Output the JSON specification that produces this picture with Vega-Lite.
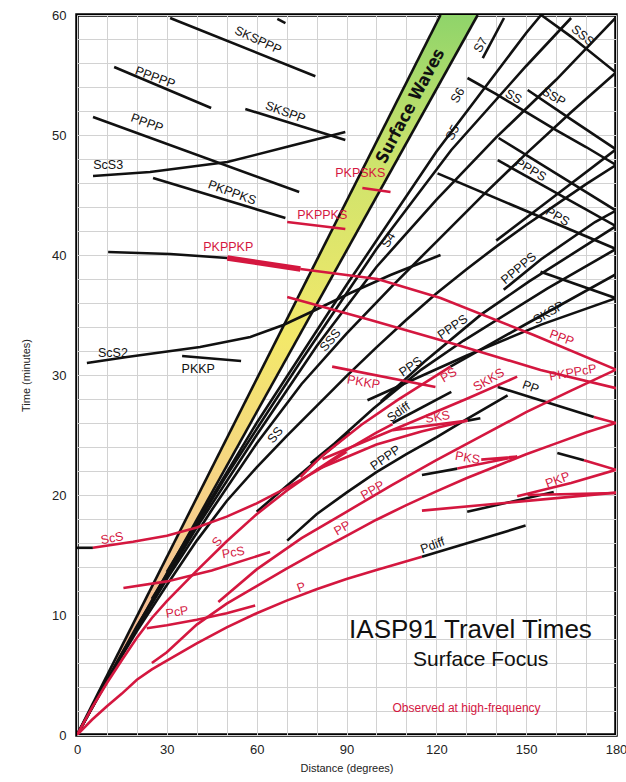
{
  "$schema": "https://vega.github.io/schema/vega-lite/v6.json",
  "width": 539,
  "height": 720,
  "autosize": {"type": "none"},
  "padding": {"left": 77, "top": 15, "right": 10, "bottom": 47},
  "background": "white",
  "config": {
    "view": {"stroke": "black", "strokeWidth": 3.5},
    "font": "Liberation Sans",
    "axis": {"domain": false, "ticks": false, "grid": true, "gridColor": "#d2d2d2", "gridWidth": 1, "labelFont": "Liberation Sans", "labelFontSize": 13, "labelColor": "#222", "titleFont": "Liberation Sans", "titleFontSize": 11, "titleFontWeight": "normal", "titleColor": "#222"}
  },
  "datasets": {
    "band": [{"t": 0, "a": 0, "b": 0}, {"t": 60, "a": 121.4, "b": 133.8}],
    "curves": [
      {"id": "SWL", "k": "calc", "i": 0, "d": 0, "t": 0}, {"id": "SWL", "k": "calc", "i": 1, "d": 121.4, "t": 60},
      {"id": "SWR", "k": "calc", "i": 0, "d": 0, "t": 0}, {"id": "SWR", "k": "calc", "i": 1, "d": 133.8, "t": 60},
      {"id": "SKSPPP", "k": "calc", "i": 0, "d": 31.1, "t": 59.75}, {"id": "SKSPPP", "k": "calc", "i": 1, "d": 79.6, "t": 54.9},
      {"id": "SKSPPPb", "k": "calc", "i": 0, "d": 66.9, "t": 59.67}, {"id": "SKSPPPb", "k": "calc", "i": 1, "d": 69.6, "t": 59.33},
      {"id": "PPPPP", "k": "calc", "i": 0, "d": 12.4, "t": 55.67}, {"id": "PPPPP", "k": "calc", "i": 1, "d": 44.8, "t": 52.25},
      {"id": "SKSPP", "k": "calc", "i": 0, "d": 56.2, "t": 52.17}, {"id": "SKSPP", "k": "calc", "i": 1, "d": 89.6, "t": 49.58},
      {"id": "PPPPm", "k": "calc", "i": 0, "d": 5.35, "t": 51.5}, {"id": "PPPPm", "k": "calc", "i": 1, "d": 74.2, "t": 45.25},
      {"id": "ScS3", "k": "calc", "i": 0, "d": 5.35, "t": 46.58}, {"id": "ScS3", "k": "calc", "i": 1, "d": 24.4, "t": 46.92}, {"id": "ScS3", "k": "calc", "i": 2, "d": 50.2, "t": 47.75}, {"id": "ScS3", "k": "calc", "i": 3, "d": 71.2, "t": 49.08}, {"id": "ScS3", "k": "calc", "i": 4, "d": 89.6, "t": 50.25},
      {"id": "PKPPKSb", "k": "calc", "i": 0, "d": 25.4, "t": 46.42}, {"id": "PKPPKSb", "k": "calc", "i": 1, "d": 69.6, "t": 43.08},
      {"id": "PKPPKPb", "k": "calc", "i": 0, "d": 10.4, "t": 40.25}, {"id": "PKPPKPb", "k": "calc", "i": 1, "d": 31.1, "t": 40.08}, {"id": "PKPPKPb", "k": "calc", "i": 2, "d": 50.2, "t": 39.75},
      {"id": "ScS2", "k": "calc", "i": 0, "d": 3.3, "t": 31.0}, {"id": "ScS2", "k": "calc", "i": 1, "d": 16.7, "t": 31.5}, {"id": "ScS2", "k": "calc", "i": 2, "d": 41.1, "t": 32.33}, {"id": "ScS2", "k": "calc", "i": 3, "d": 57.9, "t": 33.17}, {"id": "ScS2", "k": "calc", "i": 4, "d": 68.9, "t": 34.17}, {"id": "ScS2", "k": "calc", "i": 5, "d": 78.9, "t": 35.33}, {"id": "ScS2", "k": "calc", "i": 6, "d": 91.3, "t": 36.83}, {"id": "ScS2", "k": "calc", "i": 7, "d": 104.7, "t": 38.33}, {"id": "ScS2", "k": "calc", "i": 8, "d": 121.4, "t": 40.0},
      {"id": "PKKPb", "k": "calc", "i": 0, "d": 35.1, "t": 31.58}, {"id": "PKKPb", "k": "calc", "i": 1, "d": 54.8, "t": 31.17},
      {"id": "ScSb", "k": "calc", "i": 0, "d": 0, "t": 15.6}, {"id": "ScSb", "k": "calc", "i": 1, "d": 5.3, "t": 15.6},
      {"id": "Pdiff", "k": "calc", "i": 0, "d": 115.2, "t": 14.85}, {"id": "Pdiff", "k": "calc", "i": 1, "d": 149.8, "t": 17.45},
      {"id": "PPPP", "k": "calc", "i": 0, "d": 70.2, "t": 16.2}, {"id": "PPPP", "k": "calc", "i": 1, "d": 80, "t": 18.4}, {"id": "PPPP", "k": "calc", "i": 2, "d": 90, "t": 20.2}, {"id": "PPPP", "k": "calc", "i": 3, "d": 100, "t": 21.9}, {"id": "PPPP", "k": "calc", "i": 4, "d": 110, "t": 23.4}, {"id": "PPPP", "k": "calc", "i": 5, "d": 120, "t": 24.8}, {"id": "PPPP", "k": "calc", "i": 6, "d": 130, "t": 26.3}, {"id": "PPPP", "k": "calc", "i": 7, "d": 143.8, "t": 28.3},
      {"id": "SS", "k": "calc", "i": 0, "d": 0, "t": 0}, {"id": "SS", "k": "calc", "i": 1, "d": 10, "t": 4.54}, {"id": "SS", "k": "calc", "i": 2, "d": 20, "t": 8.66}, {"id": "SS", "k": "calc", "i": 3, "d": 30, "t": 12.5}, {"id": "SS", "k": "calc", "i": 4, "d": 40, "t": 16.2}, {"id": "SS", "k": "calc", "i": 5, "d": 50, "t": 19.5}, {"id": "SS", "k": "calc", "i": 6, "d": 60, "t": 22.3}, {"id": "SS", "k": "calc", "i": 7, "d": 70, "t": 24.9}, {"id": "SS", "k": "calc", "i": 8, "d": 80, "t": 27.4}, {"id": "SS", "k": "calc", "i": 9, "d": 90, "t": 29.9}, {"id": "SS", "k": "calc", "i": 10, "d": 100, "t": 32.3}, {"id": "SS", "k": "calc", "i": 11, "d": 110, "t": 34.6}, {"id": "SS", "k": "calc", "i": 12, "d": 120, "t": 36.8}, {"id": "SS", "k": "calc", "i": 13, "d": 130, "t": 38.8}, {"id": "SS", "k": "calc", "i": 14, "d": 140, "t": 40.7}, {"id": "SS", "k": "calc", "i": 15, "d": 150, "t": 42.5}, {"id": "SS", "k": "calc", "i": 16, "d": 160, "t": 44.2}, {"id": "SS", "k": "calc", "i": 17, "d": 170, "t": 45.9}, {"id": "SS", "k": "calc", "i": 18, "d": 180, "t": 47.5},
      {"id": "SSS", "k": "calc", "i": 0, "d": 0, "t": 0}, {"id": "SSS", "k": "calc", "i": 1, "d": 15, "t": 6.8}, {"id": "SSS", "k": "calc", "i": 2, "d": 30, "t": 13.0}, {"id": "SSS", "k": "calc", "i": 3, "d": 45, "t": 18.75}, {"id": "SSS", "k": "calc", "i": 4, "d": 60, "t": 24.3}, {"id": "SSS", "k": "calc", "i": 5, "d": 75, "t": 29.25}, {"id": "SSS", "k": "calc", "i": 6, "d": 90, "t": 33.45}, {"id": "SSS", "k": "calc", "i": 7, "d": 105, "t": 37.35}, {"id": "SSS", "k": "calc", "i": 8, "d": 120, "t": 41.1}, {"id": "SSS", "k": "calc", "i": 9, "d": 135, "t": 44.85}, {"id": "SSS", "k": "calc", "i": 10, "d": 150, "t": 48.45}, {"id": "SSS", "k": "calc", "i": 11, "d": 165, "t": 51.9}, {"id": "SSS", "k": "calc", "i": 12, "d": 180, "t": 55.2},
      {"id": "S4", "k": "calc", "i": 0, "d": 0, "t": 0}, {"id": "S4", "k": "calc", "i": 1, "d": 20, "t": 9.08}, {"id": "S4", "k": "calc", "i": 2, "d": 40, "t": 17.3}, {"id": "S4", "k": "calc", "i": 3, "d": 60, "t": 25.0}, {"id": "S4", "k": "calc", "i": 4, "d": 80, "t": 32.4}, {"id": "S4", "k": "calc", "i": 5, "d": 100, "t": 39.0}, {"id": "S4", "k": "calc", "i": 6, "d": 120, "t": 44.6}, {"id": "S4", "k": "calc", "i": 7, "d": 140, "t": 49.8}, {"id": "S4", "k": "calc", "i": 8, "d": 160, "t": 54.6}, {"id": "S4", "k": "calc", "i": 9, "d": 180, "t": 59.8},
      {"id": "S5", "k": "calc", "i": 0, "d": 25, "t": 11.35}, {"id": "S5", "k": "calc", "i": 1, "d": 50, "t": 21.65}, {"id": "S5", "k": "calc", "i": 2, "d": 75, "t": 31.25}, {"id": "S5", "k": "calc", "i": 3, "d": 100, "t": 40.5}, {"id": "S5", "k": "calc", "i": 4, "d": 125, "t": 48.75}, {"id": "S5", "k": "calc", "i": 5, "d": 150, "t": 55.75}, {"id": "S5", "k": "calc", "i": 6, "d": 165, "t": 59.75},
      {"id": "S6", "k": "calc", "i": 0, "d": 30, "t": 13.6}, {"id": "S6", "k": "calc", "i": 1, "d": 60, "t": 26.0}, {"id": "S6", "k": "calc", "i": 2, "d": 90, "t": 37.5}, {"id": "S6", "k": "calc", "i": 3, "d": 120, "t": 48.6}, {"id": "S6", "k": "calc", "i": 4, "d": 150, "t": 58.5}, {"id": "S6", "k": "calc", "i": 5, "d": 155, "t": 60.0},
      {"id": "S7", "k": "calc", "i": 0, "d": 135.5, "t": 56.4}, {"id": "S7", "k": "calc", "i": 1, "d": 142.6, "t": 59.75},
      {"id": "SSm", "k": "calc", "i": 0, "d": 130.4, "t": 54.75}, {"id": "SSm", "k": "calc", "i": 1, "d": 140, "t": 53.4}, {"id": "SSm", "k": "calc", "i": 2, "d": 150, "t": 51.9}, {"id": "SSm", "k": "calc", "i": 3, "d": 160, "t": 50.4}, {"id": "SSm", "k": "calc", "i": 4, "d": 170, "t": 49.0}, {"id": "SSm", "k": "calc", "i": 5, "d": 180, "t": 47.5},
      {"id": "SSSm", "k": "calc", "i": 0, "d": 155, "t": 60}, {"id": "SSSm", "k": "calc", "i": 1, "d": 165, "t": 58.2}, {"id": "SSSm", "k": "calc", "i": 2, "d": 180, "t": 55.2},
      {"id": "SSPmaj", "k": "calc", "i": 0, "d": 150.5, "t": 53.75}, {"id": "SSPmaj", "k": "calc", "i": 1, "d": 165, "t": 51.3}, {"id": "SSPmaj", "k": "calc", "i": 2, "d": 180, "t": 48.8},
      {"id": "SSPmin", "k": "calc", "i": 0, "d": 140, "t": 41.2}, {"id": "SSPmin", "k": "calc", "i": 1, "d": 160, "t": 45.0}, {"id": "SSPmin", "k": "calc", "i": 2, "d": 180, "t": 48.8},
      {"id": "PPPPSm", "k": "calc", "i": 0, "d": 140.8, "t": 49.75}, {"id": "PPPPSm", "k": "calc", "i": 1, "d": 180, "t": 43.7},
      {"id": "PPPSm", "k": "calc", "i": 0, "d": 140.5, "t": 47.9}, {"id": "PPPSm", "k": "calc", "i": 1, "d": 180, "t": 42.4},
      {"id": "PPSm", "k": "calc", "i": 0, "d": 120.4, "t": 46.8}, {"id": "PPSm", "k": "calc", "i": 1, "d": 180, "t": 40.5},
      {"id": "SKSPm", "k": "calc", "i": 0, "d": 154.8, "t": 38.6}, {"id": "SKSPm", "k": "calc", "i": 1, "d": 180, "t": 36.4},
      {"id": "PPS", "k": "calc", "i": 0, "d": 78, "t": 22.65}, {"id": "PPS", "k": "calc", "i": 1, "d": 86, "t": 24.3}, {"id": "PPS", "k": "calc", "i": 2, "d": 99, "t": 27.2}, {"id": "PPS", "k": "calc", "i": 3, "d": 115, "t": 30.45}, {"id": "PPS", "k": "calc", "i": 4, "d": 129, "t": 32.85}, {"id": "PPS", "k": "calc", "i": 5, "d": 157, "t": 37.2}, {"id": "PPS", "k": "calc", "i": 6, "d": 180, "t": 40.5},
      {"id": "PPPS", "k": "calc", "i": 0, "d": 101.5, "t": 27.8}, {"id": "PPPS", "k": "calc", "i": 1, "d": 116, "t": 31.1}, {"id": "PPPS", "k": "calc", "i": 2, "d": 135, "t": 35.05}, {"id": "PPPS", "k": "calc", "i": 3, "d": 151, "t": 37.8}, {"id": "PPPS", "k": "calc", "i": 4, "d": 180, "t": 42.4},
      {"id": "PPPPS", "k": "calc", "i": 0, "d": 142.5, "t": 37.1}, {"id": "PPPPS", "k": "calc", "i": 1, "d": 155, "t": 39.65}, {"id": "PPPPS", "k": "calc", "i": 2, "d": 173, "t": 42.75}, {"id": "PPPPS", "k": "calc", "i": 3, "d": 180, "t": 43.7},
      {"id": "SKSP", "k": "calc", "i": 0, "d": 97, "t": 27.9}, {"id": "SKSP", "k": "calc", "i": 1, "d": 130, "t": 31.6}, {"id": "SKSP", "k": "calc", "i": 2, "d": 155, "t": 34.2}, {"id": "SKSP", "k": "calc", "i": 3, "d": 180, "t": 36.4},
      {"id": "PSd", "k": "calc", "i": 0, "d": 124.7, "t": 30.7}, {"id": "PSd", "k": "calc", "i": 1, "d": 150, "t": 34.25}, {"id": "PSd", "k": "calc", "i": 2, "d": 180, "t": 38.4},
      {"id": "PSb", "k": "calc", "i": 0, "d": 60, "t": 18.6}, {"id": "PSb", "k": "calc", "i": 1, "d": 70, "t": 20.75}, {"id": "PSb", "k": "calc", "i": 2, "d": 82, "t": 23.3}, {"id": "PSb", "k": "calc", "i": 3, "d": 91.3, "t": 25.2},
      {"id": "PPm", "k": "calc", "i": 0, "d": 140.5, "t": 29.0}, {"id": "PPm", "k": "calc", "i": 1, "d": 172.6, "t": 26.5},
      {"id": "Sdiff", "k": "calc", "i": 0, "d": 105.4, "t": 26.0}, {"id": "Sdiff", "k": "calc", "i": 1, "d": 125, "t": 28.6},
      {"id": "SKSb", "k": "calc", "i": 0, "d": 130.4, "t": 26.2}, {"id": "SKSb", "k": "calc", "i": 1, "d": 134.7, "t": 26.4},
      {"id": "PKSb", "k": "calc", "i": 0, "d": 115.2, "t": 21.67}, {"id": "PKSb", "k": "calc", "i": 1, "d": 127, "t": 22.2},
      {"id": "PKPb", "k": "calc", "i": 0, "d": 130.3, "t": 18.6}, {"id": "PKPb", "k": "calc", "i": 1, "d": 159.2, "t": 20.25},
      {"id": "SKPb", "k": "calc", "i": 0, "d": 160.4, "t": 23.5}, {"id": "SKPb", "k": "calc", "i": 1, "d": 169.3, "t": 22.9},
      {"id": "PPmr", "k": "obs", "i": 0, "d": 172.6, "t": 26.5}, {"id": "PPmr", "k": "obs", "i": 1, "d": 180, "t": 26.0},
      {"id": "SKPr", "k": "obs", "i": 0, "d": 169.3, "t": 22.9}, {"id": "SKPr", "k": "obs", "i": 1, "d": 180, "t": 22.1},
      {"id": "P", "k": "obs", "i": 0, "d": 0, "t": 0}, {"id": "P", "k": "obs", "i": 1, "d": 5, "t": 1.27}, {"id": "P", "k": "obs", "i": 2, "d": 10, "t": 2.4}, {"id": "P", "k": "obs", "i": 3, "d": 15, "t": 3.45}, {"id": "P", "k": "obs", "i": 4, "d": 20, "t": 4.6}, {"id": "P", "k": "obs", "i": 5, "d": 25, "t": 5.47}, {"id": "P", "k": "obs", "i": 6, "d": 30, "t": 6.2}, {"id": "P", "k": "obs", "i": 7, "d": 40, "t": 7.63}, {"id": "P", "k": "obs", "i": 8, "d": 50, "t": 8.97}, {"id": "P", "k": "obs", "i": 9, "d": 60, "t": 10.15}, {"id": "P", "k": "obs", "i": 10, "d": 70, "t": 11.2}, {"id": "P", "k": "obs", "i": 11, "d": 80, "t": 12.15}, {"id": "P", "k": "obs", "i": 12, "d": 90, "t": 13.0}, {"id": "P", "k": "obs", "i": 13, "d": 100, "t": 13.75}, {"id": "P", "k": "obs", "i": 14, "d": 115.2, "t": 14.85},
      {"id": "PP", "k": "obs", "i": 0, "d": 25, "t": 6.0}, {"id": "PP", "k": "obs", "i": 1, "d": 30, "t": 6.9}, {"id": "PP", "k": "obs", "i": 2, "d": 40, "t": 9.2}, {"id": "PP", "k": "obs", "i": 3, "d": 50, "t": 10.94}, {"id": "PP", "k": "obs", "i": 4, "d": 60, "t": 12.4}, {"id": "PP", "k": "obs", "i": 5, "d": 70, "t": 13.86}, {"id": "PP", "k": "obs", "i": 6, "d": 80, "t": 15.26}, {"id": "PP", "k": "obs", "i": 7, "d": 90, "t": 16.6}, {"id": "PP", "k": "obs", "i": 8, "d": 100, "t": 17.94}, {"id": "PP", "k": "obs", "i": 9, "d": 110, "t": 19.16}, {"id": "PP", "k": "obs", "i": 10, "d": 120, "t": 20.3}, {"id": "PP", "k": "obs", "i": 11, "d": 130, "t": 21.4}, {"id": "PP", "k": "obs", "i": 12, "d": 140, "t": 22.4}, {"id": "PP", "k": "obs", "i": 13, "d": 150, "t": 23.4}, {"id": "PP", "k": "obs", "i": 14, "d": 160, "t": 24.3}, {"id": "PP", "k": "obs", "i": 15, "d": 170, "t": 25.2}, {"id": "PP", "k": "obs", "i": 16, "d": 180, "t": 26.0},
      {"id": "PPP", "k": "obs", "i": 0, "d": 47.2, "t": 11.08}, {"id": "PPP", "k": "obs", "i": 1, "d": 60, "t": 13.8}, {"id": "PPP", "k": "obs", "i": 2, "d": 75, "t": 16.4}, {"id": "PPP", "k": "obs", "i": 3, "d": 90, "t": 18.6}, {"id": "PPP", "k": "obs", "i": 4, "d": 105, "t": 20.8}, {"id": "PPP", "k": "obs", "i": 5, "d": 120, "t": 22.9}, {"id": "PPP", "k": "obs", "i": 6, "d": 135, "t": 24.9}, {"id": "PPP", "k": "obs", "i": 7, "d": 150, "t": 26.9}, {"id": "PPP", "k": "obs", "i": 8, "d": 165, "t": 28.7}, {"id": "PPP", "k": "obs", "i": 9, "d": 180, "t": 30.45},
      {"id": "PcP", "k": "obs", "i": 0, "d": 23.3, "t": 8.9}, {"id": "PcP", "k": "obs", "i": 1, "d": 30, "t": 9.15}, {"id": "PcP", "k": "obs", "i": 2, "d": 40, "t": 9.6}, {"id": "PcP", "k": "obs", "i": 3, "d": 50, "t": 10.15}, {"id": "PcP", "k": "obs", "i": 4, "d": 59.5, "t": 10.8},
      {"id": "PcS", "k": "obs", "i": 0, "d": 15.5, "t": 12.25}, {"id": "PcS", "k": "obs", "i": 1, "d": 30, "t": 12.8}, {"id": "PcS", "k": "obs", "i": 2, "d": 45, "t": 13.7}, {"id": "PcS", "k": "obs", "i": 3, "d": 64.5, "t": 15.25},
      {"id": "S", "k": "obs", "i": 0, "d": 0, "t": 0}, {"id": "S", "k": "obs", "i": 1, "d": 5, "t": 2.27}, {"id": "S", "k": "obs", "i": 2, "d": 10, "t": 4.33}, {"id": "S", "k": "obs", "i": 3, "d": 15, "t": 6.25}, {"id": "S", "k": "obs", "i": 4, "d": 20, "t": 8.1}, {"id": "S", "k": "obs", "i": 5, "d": 25, "t": 9.75}, {"id": "S", "k": "obs", "i": 6, "d": 30, "t": 11.15}, {"id": "S", "k": "obs", "i": 7, "d": 40, "t": 13.7}, {"id": "S", "k": "obs", "i": 8, "d": 50, "t": 16.15}, {"id": "S", "k": "obs", "i": 9, "d": 60, "t": 18.4}, {"id": "S", "k": "obs", "i": 10, "d": 70, "t": 20.35}, {"id": "S", "k": "obs", "i": 11, "d": 80, "t": 22.1}, {"id": "S", "k": "obs", "i": 12, "d": 90, "t": 23.75}, {"id": "S", "k": "obs", "i": 13, "d": 100, "t": 25.2}, {"id": "S", "k": "obs", "i": 14, "d": 105.4, "t": 25.9},
      {"id": "ScS", "k": "obs", "i": 0, "d": 5.3, "t": 15.6}, {"id": "ScS", "k": "obs", "i": 1, "d": 18.7, "t": 16.1}, {"id": "ScS", "k": "obs", "i": 2, "d": 30, "t": 16.6}, {"id": "ScS", "k": "obs", "i": 3, "d": 40, "t": 17.3}, {"id": "ScS", "k": "obs", "i": 4, "d": 50, "t": 18.2}, {"id": "ScS", "k": "obs", "i": 5, "d": 60, "t": 19.3}, {"id": "ScS", "k": "obs", "i": 6, "d": 70, "t": 20.6}, {"id": "ScS", "k": "obs", "i": 7, "d": 80, "t": 22.0}, {"id": "ScS", "k": "obs", "i": 8, "d": 90, "t": 23.6},
      {"id": "PKPPKSr", "k": "obs", "i": 0, "d": 70.2, "t": 42.75}, {"id": "PKPPKSr", "k": "obs", "i": 1, "d": 89.6, "t": 42.17},
      {"id": "PKPSKS", "k": "obs", "i": 0, "d": 95.3, "t": 45.58}, {"id": "PKPSKS", "k": "obs", "i": 1, "d": 104.7, "t": 45.25},
      {"id": "PKPPKPr1", "k": "obs", "i": 0, "d": 50.2, "t": 39.75}, {"id": "PKPPKPr1", "k": "obs", "i": 1, "d": 74.6, "t": 38.83},
      {"id": "PKPPKPr2", "k": "obs", "i": 0, "d": 74.6, "t": 38.83}, {"id": "PKPPKPr2", "k": "obs", "i": 1, "d": 100.3, "t": 38.0}, {"id": "PKPPKPr2", "k": "obs", "i": 2, "d": 121.4, "t": 36.42}, {"id": "PKPPKPr2", "k": "obs", "i": 3, "d": 152.5, "t": 33.33}, {"id": "PKPPKPr2", "k": "obs", "i": 4, "d": 180, "t": 30.45},
      {"id": "PKPPcP", "k": "obs", "i": 0, "d": 70.2, "t": 36.5}, {"id": "PKPPcP", "k": "obs", "i": 1, "d": 98, "t": 34.58}, {"id": "PKPPcP", "k": "obs", "i": 2, "d": 127.1, "t": 32.5}, {"id": "PKPPcP", "k": "obs", "i": 3, "d": 154.8, "t": 30.42}, {"id": "PKPPcP", "k": "obs", "i": 4, "d": 180, "t": 28.9},
      {"id": "PKKP", "k": "obs", "i": 0, "d": 85.2, "t": 30.7}, {"id": "PKKP", "k": "obs", "i": 1, "d": 119.7, "t": 29.0},
      {"id": "PS", "k": "obs", "i": 0, "d": 74.6, "t": 21.5}, {"id": "PS", "k": "obs", "i": 1, "d": 82, "t": 23.3}, {"id": "PS", "k": "obs", "i": 2, "d": 95, "t": 25.85}, {"id": "PS", "k": "obs", "i": 3, "d": 107, "t": 27.9}, {"id": "PS", "k": "obs", "i": 4, "d": 124.7, "t": 30.7},
      {"id": "SKKS", "k": "obs", "i": 0, "d": 82, "t": 23.0}, {"id": "SKKS", "k": "obs", "i": 1, "d": 110, "t": 25.9}, {"id": "SKKS", "k": "obs", "i": 2, "d": 130, "t": 28.0}, {"id": "SKKS", "k": "obs", "i": 3, "d": 147, "t": 29.86},
      {"id": "SKS", "k": "obs", "i": 0, "d": 80, "t": 22.1}, {"id": "SKS", "k": "obs", "i": 1, "d": 100, "t": 24.2}, {"id": "SKS", "k": "obs", "i": 2, "d": 115, "t": 25.3}, {"id": "SKS", "k": "obs", "i": 3, "d": 130.4, "t": 26.2},
      {"id": "SKS2", "k": "obs", "i": 0, "d": 105.4, "t": 25.4}, {"id": "SKS2", "k": "obs", "i": 1, "d": 130.4, "t": 26.2},
      {"id": "PKS", "k": "obs", "i": 0, "d": 127, "t": 22.2}, {"id": "PKS", "k": "obs", "i": 1, "d": 147, "t": 23.2}, {"id": "PKS", "k": "obs", "i": 2, "d": 135, "t": 22.95},
      {"id": "PKPdf", "k": "obs", "i": 0, "d": 115.2, "t": 18.7}, {"id": "PKPdf", "k": "obs", "i": 1, "d": 180, "t": 20.2},
      {"id": "PKPab", "k": "obs", "i": 0, "d": 147, "t": 19.9}, {"id": "PKPab", "k": "obs", "i": 1, "d": 165, "t": 21.0}, {"id": "PKPab", "k": "obs", "i": 2, "d": 180, "t": 22.1},
      {"id": "PKPfl", "k": "obs", "i": 0, "d": 150.5, "t": 20.0}, {"id": "PKPfl", "k": "obs", "i": 1, "d": 180, "t": 20.17}
    ],
    "labels": [
      {"key": "l1", "n": "SKSPPP", "k": "calc", "d": 60.5, "t": 57.9},
      {"key": "l2", "n": "PPPPP", "k": "calc", "d": 26.1, "t": 54.8},
      {"key": "l3", "n": "SKSPP", "k": "calc", "d": 69.6, "t": 51.9},
      {"key": "l4", "n": "PPPP", "k": "calc", "d": 23.4, "t": 51.0},
      {"key": "l5", "n": "ScS3", "k": "calc", "d": 10.4, "t": 47.5},
      {"key": "l6", "n": "PKPPKS", "k": "calc", "d": 51.8, "t": 45.2},
      {"key": "l7", "n": "ScS2", "k": "calc", "d": 12.0, "t": 31.8},
      {"key": "l8", "n": "PKKP", "k": "calc", "d": 40.5, "t": 30.5},
      {"key": "l9", "n": "SS", "k": "calc", "d": 66.2, "t": 25.0},
      {"key": "l10", "n": "SSS", "k": "calc", "d": 84.6, "t": 32.9},
      {"key": "l11", "n": "S4", "k": "calc", "d": 104, "t": 41.25},
      {"key": "l12", "n": "S5", "k": "calc", "d": 125.4, "t": 50.2},
      {"key": "l13", "n": "S6", "k": "calc", "d": 127.1, "t": 53.3},
      {"key": "l14", "n": "S7", "k": "calc", "d": 134.8, "t": 57.5},
      {"key": "l15", "n": "SS", "k": "calc", "d": 145.8, "t": 53.2},
      {"key": "l16", "n": "SSP", "k": "calc", "d": 159.2, "t": 53.2},
      {"key": "l17", "n": "SSS", "k": "calc", "d": 168.9, "t": 58.3},
      {"key": "l18", "n": "PPPS", "k": "calc", "d": 151.5, "t": 47.1},
      {"key": "l19", "n": "PPS", "k": "calc", "d": 160.5, "t": 43.2},
      {"key": "l20", "n": "PPPPS", "k": "calc", "d": 147.5, "t": 38.9},
      {"key": "l21", "n": "SKSP", "k": "calc", "d": 157.5, "t": 35.2},
      {"key": "l22", "n": "PPPS", "k": "calc", "d": 125.4, "t": 34.0},
      {"key": "l23", "n": "PPS", "k": "calc", "d": 111.4, "t": 30.7},
      {"key": "l24", "n": "PP", "k": "calc", "d": 151.5, "t": 29.0},
      {"key": "l25", "n": "Sdiff", "k": "calc", "d": 107.4, "t": 26.9},
      {"key": "l26", "n": "PPPP", "k": "calc", "d": 103, "t": 23.1},
      {"key": "l27", "n": "Pdiff", "k": "calc", "d": 118.7, "t": 15.8},
      {"key": "m1", "n": "PKPSKS", "k": "obs", "d": 94.6, "t": 46.8},
      {"key": "m2", "n": "PKPPKS", "k": "obs", "d": 81.9, "t": 43.3},
      {"key": "m3", "n": "PKPPKP", "k": "obs", "d": 50.5, "t": 40.7},
      {"key": "m4", "n": "PKKP", "k": "obs", "d": 95.7, "t": 29.4},
      {"key": "m5", "n": "PS", "k": "obs", "d": 124.1, "t": 30.0},
      {"key": "m6", "n": "SKKS", "k": "obs", "d": 137.5, "t": 29.6},
      {"key": "m7", "n": "SKS", "k": "obs", "d": 120.4, "t": 26.5},
      {"key": "m8", "n": "PKS", "k": "obs", "d": 130.4, "t": 23.1},
      {"key": "m9", "n": "PKP", "k": "obs", "d": 160.5, "t": 21.25},
      {"key": "m10", "n": "PPP", "k": "obs", "d": 98.7, "t": 20.4},
      {"key": "m11", "n": "PP", "k": "obs", "d": 88.6, "t": 17.25},
      {"key": "m12", "n": "P", "k": "obs", "d": 74.9, "t": 12.3},
      {"key": "m13", "n": "PPP", "k": "obs", "d": 161.9, "t": 33.1},
      {"key": "m14", "n": "PKPPcP", "k": "obs", "d": 165.6, "t": 30.2},
      {"key": "m15", "n": "S", "k": "obs", "d": 46.8, "t": 16.1},
      {"key": "m16", "n": "PcS", "k": "obs", "d": 52.2, "t": 15.2},
      {"key": "m17", "n": "PcP", "k": "obs", "d": 33.4, "t": 10.25},
      {"key": "m18", "n": "ScS", "k": "obs", "d": 11.7, "t": 16.4}
    ],
    "notes": [
      {"txt": "IASP91 Travel Times", "d": 131.4, "t": 8.1, "s": "big"},
      {"txt": "Surface Focus", "d": 134.8, "t": 5.75, "s": "mid"},
      {"txt": "Observed at high-frequency", "d": 130.1, "t": 1.9, "s": "red"},
      {"txt": "Surface Waves", "d": 111.4, "t": 52.4, "s": "sw"}
    ]
  },
  "encoding": {
    "x": {"type": "quantitative", "scale": {"domain": [0, 180], "nice": false, "zero": false}, "axis": {"values": [0,10,20,30,40,50,60,70,80,90,100,110,120,130,140,150,160,170,180], "labelExpr": "datum.value % 30 === 0 ? datum.label : ''", "labelPadding": 8, "title": "Distance (degrees)", "titlePadding": 6, "labelFlush": false}},
    "y": {"type": "quantitative", "scale": {"domain": [0, 60], "nice": false, "zero": false}, "axis": {"values": [0,2,4,6,8,10,12,14,16,18,20,22,24,26,28,30,32,34,36,38,40,42,44,46,48,50,52,54,56,58,60], "labelExpr": "datum.value % 10 === 0 ? datum.label : ''", "labelPadding": 11, "title": "Time (minutes)", "titlePadding": 20, "labelFlush": false}}
  },
  "layer": [
    {
      "data": {"name": "band"},
      "mark": {"type": "area", "orient": "horizontal", "clip": true, "color": {"gradient": "linear", "x1": 0, "y1": 1, "x2": 0, "y2": 0, "stops": [{"offset": 0, "color": "#f4a9a0"}, {"offset": 0.3, "color": "#f6cf8c"}, {"offset": 0.55, "color": "#f3e86a"}, {"offset": 0.8, "color": "#cde36c"}, {"offset": 1, "color": "#8fd46a"}]}},
      "encoding": {"y": {"field": "t"}, "x": {"field": "a"}, "x2": {"field": "b"}}
    },
    {
      "data": {"name": "curves"},
      "transform": [{"filter": "datum.k === 'calc'"}],
      "mark": {"type": "line", "strokeWidth": 2.6, "clip": true, "color": "#111111"},
      "encoding": {"x": {"field": "d"}, "y": {"field": "t"}, "detail": {"field": "id"}, "order": {"field": "i"}}
    },
    {
      "data": {"name": "curves"},
      "transform": [{"filter": "datum.k === 'obs'"}],
      "mark": {"type": "line", "strokeWidth": 2.6, "clip": true, "color": "#d4173f"},
      "encoding": {"x": {"field": "d"}, "y": {"field": "t"}, "detail": {"field": "id"}, "order": {"field": "i"}}
    },
    {
      "data": {"name": "curves"},
      "transform": [{"filter": "datum.id === 'PKPPKPr1'"}],
      "mark": {"type": "line", "strokeWidth": 5.5, "clip": true, "color": "#d4173f"},
      "encoding": {"x": {"field": "d"}, "y": {"field": "t"}, "order": {"field": "i"}}
    },
    {"data": {"name": "labels"}, "transform": [{"filter": {"field": "key", "oneOf": ["l11", "l12", "l13", "l14"]}}], "mark": {"type": "text", "angle": -60, "fontSize": 12.5}, "encoding": {"x": {"field": "d"}, "y": {"field": "t"}, "text": {"field": "n"}, "color": {"field": "k", "type": "nominal", "scale": {"domain": ["calc", "obs"], "range": ["#111111", "#d4173f"]}, "legend": null}}},
    {"data": {"name": "labels"}, "transform": [{"filter": {"field": "key", "oneOf": ["l9", "l10", "m15"]}}], "mark": {"type": "text", "angle": -50, "fontSize": 12.5}, "encoding": {"x": {"field": "d"}, "y": {"field": "t"}, "text": {"field": "n"}, "color": {"field": "k", "type": "nominal", "scale": {"domain": ["calc", "obs"], "range": ["#111111", "#d4173f"]}, "legend": null}}},
    {"data": {"name": "labels"}, "transform": [{"filter": {"field": "key", "oneOf": ["l20"]}}], "mark": {"type": "text", "angle": -40, "fontSize": 12.5}, "encoding": {"x": {"field": "d"}, "y": {"field": "t"}, "text": {"field": "n"}, "color": {"field": "k", "type": "nominal", "scale": {"domain": ["calc", "obs"], "range": ["#111111", "#d4173f"]}, "legend": null}}},
    {"data": {"name": "labels"}, "transform": [{"filter": {"field": "key", "oneOf": ["l22", "l23", "l26", "l25"]}}], "mark": {"type": "text", "angle": -35, "fontSize": 12.5}, "encoding": {"x": {"field": "d"}, "y": {"field": "t"}, "text": {"field": "n"}, "color": {"field": "k", "type": "nominal", "scale": {"domain": ["calc", "obs"], "range": ["#111111", "#d4173f"]}, "legend": null}}},
    {"data": {"name": "labels"}, "transform": [{"filter": {"field": "key", "oneOf": ["l21", "m5", "m6", "m10", "m11"]}}], "mark": {"type": "text", "angle": -30, "fontSize": 12.5}, "encoding": {"x": {"field": "d"}, "y": {"field": "t"}, "text": {"field": "n"}, "color": {"field": "k", "type": "nominal", "scale": {"domain": ["calc", "obs"], "range": ["#111111", "#d4173f"]}, "legend": null}}},
    {"data": {"name": "labels"}, "transform": [{"filter": {"field": "key", "oneOf": ["l27", "m9", "m12"]}}], "mark": {"type": "text", "angle": -20, "fontSize": 12.5}, "encoding": {"x": {"field": "d"}, "y": {"field": "t"}, "text": {"field": "n"}, "color": {"field": "k", "type": "nominal", "scale": {"domain": ["calc", "obs"], "range": ["#111111", "#d4173f"]}, "legend": null}}},
    {"data": {"name": "labels"}, "transform": [{"filter": {"field": "key", "oneOf": ["m7", "m14", "m16", "m17", "m18"]}}], "mark": {"type": "text", "angle": -10, "fontSize": 12.5}, "encoding": {"x": {"field": "d"}, "y": {"field": "t"}, "text": {"field": "n"}, "color": {"field": "k", "type": "nominal", "scale": {"domain": ["calc", "obs"], "range": ["#111111", "#d4173f"]}, "legend": null}}},
    {"data": {"name": "labels"}, "transform": [{"filter": {"field": "key", "oneOf": ["l5", "l7", "l8", "m1", "m2", "m3"]}}], "mark": {"type": "text", "angle": 0, "fontSize": 12.5}, "encoding": {"x": {"field": "d"}, "y": {"field": "t"}, "text": {"field": "n"}, "color": {"field": "k", "type": "nominal", "scale": {"domain": ["calc", "obs"], "range": ["#111111", "#d4173f"]}, "legend": null}}},
    {"data": {"name": "labels"}, "transform": [{"filter": {"field": "key", "oneOf": ["m4", "m8"]}}], "mark": {"type": "text", "angle": 10, "fontSize": 12.5}, "encoding": {"x": {"field": "d"}, "y": {"field": "t"}, "text": {"field": "n"}, "color": {"field": "k", "type": "nominal", "scale": {"domain": ["calc", "obs"], "range": ["#111111", "#d4173f"]}, "legend": null}}},
    {"data": {"name": "labels"}, "transform": [{"filter": {"field": "key", "oneOf": ["l2", "l3", "l4", "l6", "l24", "m13"]}}], "mark": {"type": "text", "angle": 20, "fontSize": 12.5}, "encoding": {"x": {"field": "d"}, "y": {"field": "t"}, "text": {"field": "n"}, "color": {"field": "k", "type": "nominal", "scale": {"domain": ["calc", "obs"], "range": ["#111111", "#d4173f"]}, "legend": null}}},
    {"data": {"name": "labels"}, "transform": [{"filter": {"field": "key", "oneOf": ["l1"]}}], "mark": {"type": "text", "angle": 25, "fontSize": 12.5}, "encoding": {"x": {"field": "d"}, "y": {"field": "t"}, "text": {"field": "n"}, "color": {"field": "k", "type": "nominal", "scale": {"domain": ["calc", "obs"], "range": ["#111111", "#d4173f"]}, "legend": null}}},
    {"data": {"name": "labels"}, "transform": [{"filter": {"field": "key", "oneOf": ["l15", "l16", "l18", "l19"]}}], "mark": {"type": "text", "angle": 30, "fontSize": 12.5}, "encoding": {"x": {"field": "d"}, "y": {"field": "t"}, "text": {"field": "n"}, "color": {"field": "k", "type": "nominal", "scale": {"domain": ["calc", "obs"], "range": ["#111111", "#d4173f"]}, "legend": null}}},
    {"data": {"name": "labels"}, "transform": [{"filter": {"field": "key", "oneOf": ["l17"]}}], "mark": {"type": "text", "angle": 40, "fontSize": 12.5}, "encoding": {"x": {"field": "d"}, "y": {"field": "t"}, "text": {"field": "n"}, "color": {"field": "k", "type": "nominal", "scale": {"domain": ["calc", "obs"], "range": ["#111111", "#d4173f"]}, "legend": null}}},
    {"data": {"name": "notes"}, "transform": [{"filter": "datum.s === 'big'"}], "mark": {"type": "text", "fontSize": 26, "baseline": "alphabetic", "color": "#111"}, "encoding": {"x": {"field": "d"}, "y": {"field": "t"}, "text": {"field": "txt"}}},
    {"data": {"name": "notes"}, "transform": [{"filter": "datum.s === 'mid'"}], "mark": {"type": "text", "fontSize": 21, "baseline": "alphabetic", "color": "#111"}, "encoding": {"x": {"field": "d"}, "y": {"field": "t"}, "text": {"field": "txt"}}},
    {"data": {"name": "notes"}, "transform": [{"filter": "datum.s === 'red'"}], "mark": {"type": "text", "fontSize": 12, "baseline": "alphabetic", "color": "#d4173f"}, "encoding": {"x": {"field": "d"}, "y": {"field": "t"}, "text": {"field": "txt"}}},
    {"data": {"name": "notes"}, "transform": [{"filter": "datum.s === 'sw'"}], "mark": {"type": "text", "fontSize": 17, "fontWeight": "bold", "font": "Liberation Sans Narrow, DejaVu Sans Condensed, Liberation Sans", "angle": -62, "color": "#111"}, "encoding": {"x": {"field": "d"}, "y": {"field": "t"}, "text": {"field": "txt"}}}
  ]
}
